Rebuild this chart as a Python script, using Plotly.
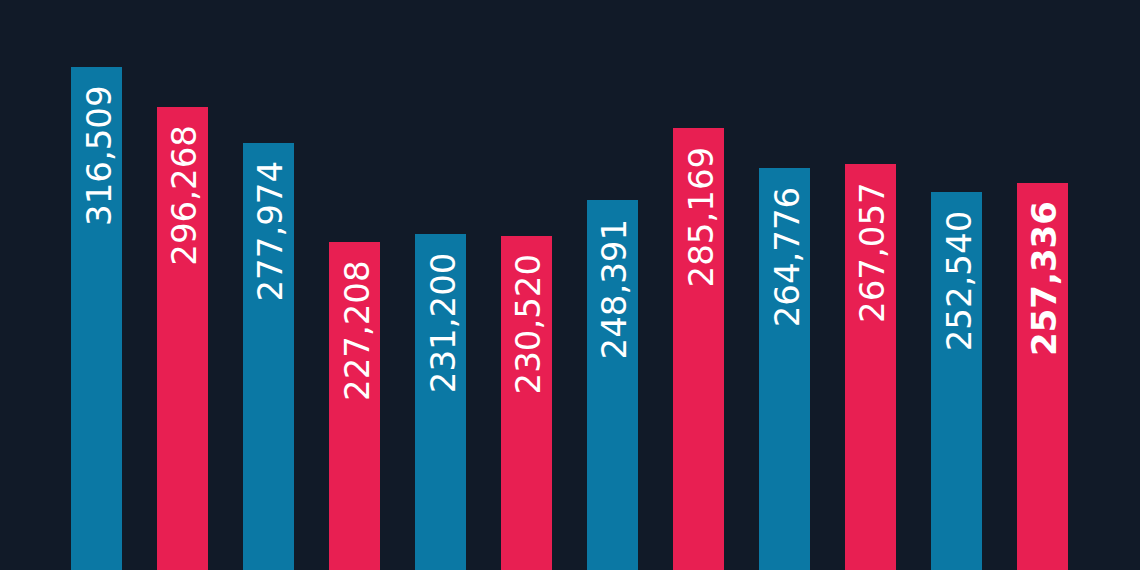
import plotly.graph_objects as go

categories = ["B1", "B2", "B3", "B4", "B5", "B6", "B7", "B8", "B9", "B10", "B11", "B12"]
values = [316509, 296268, 277974, 227208, 231200, 230520, 248391, 285169, 264776, 267057, 252540, 257336]
labels = ["316,509", "296,268", "277,974", "227,208", "231,200", "230,520",
          "248,391", "285,169", "264,776", "267,057", "252,540", "257,336"]

BLUE = "#0b78a4"
RED = "#e81f52"
BG = "#111a28"
colors = [BLUE if i % 2 == 0 else RED for i in range(len(values))]

fig = go.Figure()
fig.add_trace(go.Bar(
    x=categories, y=values, marker=dict(color=colors, line=dict(width=0)),
    width=0.593, hoverinfo="skip",
))

for i, (c, v, t) in enumerate(zip(categories, values, labels)):
    bold = i == len(values) - 1
    fig.add_annotation(
        x=c, y=v, text=f"<b>{t}</b>" if bold else t, textangle=-90,
        showarrow=False, xanchor="center", yanchor="top", yshift=-16, xshift=2,
        font=dict(family="DejaVu Sans, sans-serif", size=34, color="white"),
    )

fig.update_layout(
    width=1140, height=570,
    margin=dict(l=0, r=0, t=0, b=0),
    paper_bgcolor=BG, plot_bgcolor=BG,
    showlegend=False, bargap=0,
    xaxis=dict(range=[-1.122, 12.134], visible=False, showgrid=False),
    yaxis=dict(range=[59838, 350700], visible=False, showgrid=False),
)

fig.write_html("out.html")
